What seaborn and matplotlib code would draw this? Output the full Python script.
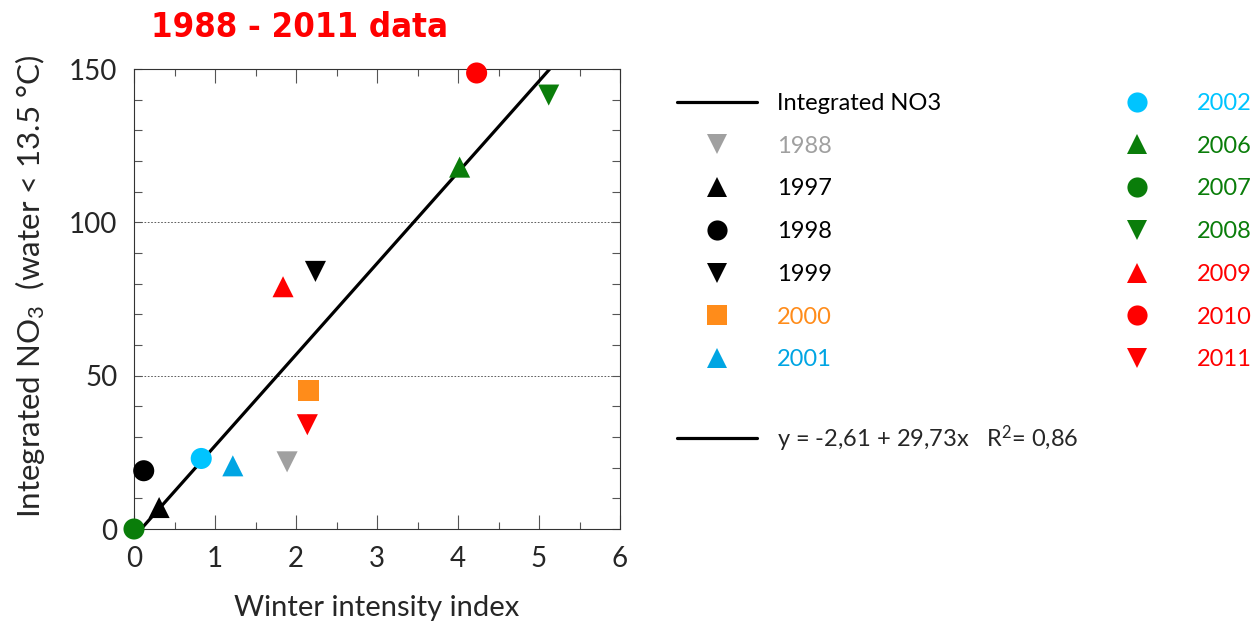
import numpy as np
import pandas as pd
import matplotlib
matplotlib.use("Agg")
import matplotlib.pyplot as plt
from matplotlib.lines import Line2D
from matplotlib.ticker import MultipleLocator
import seaborn as sns

# ---- data ----
years = ["1988", "1997", "1998", "1999", "2000", "2001",
         "2002", "2006", "2007", "2008", "2009", "2010", "2011"]
winter_index = [1.89, 0.31, 0.12, 2.24, 2.16, 1.22,
                0.83, 4.02, 0.00, 5.12, 1.84, 4.23, 2.14]
integrated_no3 = [21.9, 7.0, 19.0, 84.0, 45.3, 20.6,
                  23.0, 118.0, 0.0, 141.5, 79.0, 148.7, 34.0]
year_colors = ["#a0a0a0", "#000000", "#000000", "#000000", "#ff8c1a", "#00a5e3",
               "#00c4ff", "#0a7d0a", "#0a7d0a", "#0a7d0a", "#ff0000", "#ff0000", "#ff0000"]
year_markers = ["v", "^", "o", "v", "s", "^",
                "o", "^", "o", "v", "^", "o", "v"]
fit_intercept = -2.61
fit_slope = 29.73
fit_r2 = 0.86
x_ticks = [0, 1, 2, 3, 4, 5, 6]
y_ticks = [0, 50, 100, 150]

df = pd.DataFrame({"year": years, "x": winter_index, "y": integrated_no3})

sns.set_style("white")
plt.rcParams["font.family"] = ["Lato", "DejaVu Sans"]
plt.rcParams["mathtext.default"] = "regular"

W, H = 1252, 627
fig = plt.figure(figsize=(W / 100, H / 100), dpi=100)
ax = fig.add_axes([134 / W, 1 - 529 / H, (620 - 134) / W, (529 - 69) / H])

# regression line
xl = np.linspace((0 - fit_intercept) / fit_slope, (150 - fit_intercept) / fit_slope, 50)
ax.plot(xl, fit_intercept + fit_slope * xl, color="black", lw=2.3, zorder=2)

pal = dict(zip(years, year_colors))
mk = dict(zip(years, year_markers))
sns.scatterplot(data=df, x="x", y="y", hue="year", style="year", palette=pal,
                markers=mk, s=230, edgecolor="none", linewidth=0, legend=False,
                ax=ax, zorder=3, clip_on=False)

ax.set_xlim(0, 6)
ax.set_ylim(0, 150)
ax.set_xticks(x_ticks)
ax.set_yticks(y_ticks)
ax.set_xticklabels(["0", "1", "2", "3", "4", "5", "6"])
ax.xaxis.set_minor_locator(MultipleLocator(0.5))
ax.yaxis.set_minor_locator(MultipleLocator(10))
ax.tick_params(axis="both", which="both", direction="in", top=True, right=True,
               bottom=True, left=True, color="#555555", width=0.8,
               labelsize=20, pad=12)
ax.tick_params(axis="x", which="major", length=10)
ax.tick_params(axis="x", which="minor", length=5)
ax.tick_params(axis="y", which="both", length=6)
for s in ax.spines.values():
    s.set_color("#333333")
    s.set_linewidth(0.8)
ax.grid(axis="y", which="major", linestyle=(0, (2, 2)), color="#444444", lw=0.6)
ax.set_axisbelow(True)

ax.set_xlabel("Winter intensity index", fontsize=21, labelpad=17)
ax.set_ylabel("Integrated NO$_3$  (water < 13.5 °C)", fontsize=22.5)
ax.yaxis.set_label_coords(-0.179, 0.527)

fig.text(151 / W, 1 - 37 / H, "1988 - 2011 data", color="#ff0000",
         fontsize=24.8, fontweight="bold", family="DejaVu Sans", fontstretch="condensed",
         ha="left", va="baseline")

# ---- legends ----
fs = 17
lsp = 0.92
def handle(m, c):
    return Line2D([], [], marker=m, color=c, linestyle="none", markersize=14.5,
                  markeredgewidth=0)

col1_h = [Line2D([], [], color="black", lw=2.3)] + [handle(year_markers[i], year_colors[i]) for i in range(6)]
col1_l = ["Integrated NO3"] + years[:6]
col1_c = ["black"] + year_colors[:6]
leg1 = fig.legend(col1_h, col1_l, loc="upper left", bbox_to_anchor=(677 / W, 1 - 93 / H),
                  frameon=False, fontsize=fs, handlelength=3.4, handletextpad=0.85,
                  labelspacing=lsp, labelcolor=col1_c, borderaxespad=0, borderpad=0)

col2_h = [handle(year_markers[i], year_colors[i]) for i in range(6, 13)]
col2_l = years[6:]
col2_c = year_colors[6:]
leg2 = fig.legend(col2_h, col2_l, loc="upper left", bbox_to_anchor=(1097 / W, 1 - 93 / H),
                  frameon=False, fontsize=fs, handlelength=3.4, handletextpad=0.85,
                  labelspacing=lsp, labelcolor=col2_c, borderaxespad=0, borderpad=0)

eq = f"y = {fit_intercept:.2f} + {fit_slope:.2f}x   R$^2$= {fit_r2:.2f}".replace(".", ",")
leg3 = fig.legend([Line2D([], [], color="black", lw=2.3)], [eq], loc="upper left",
                  bbox_to_anchor=(677 / W, 1 - 423 / H), frameon=False, fontsize=fs,
                  handlelength=3.4, handletextpad=0.85, borderaxespad=0, borderpad=0)

fig.savefig("out.png", dpi=100)
